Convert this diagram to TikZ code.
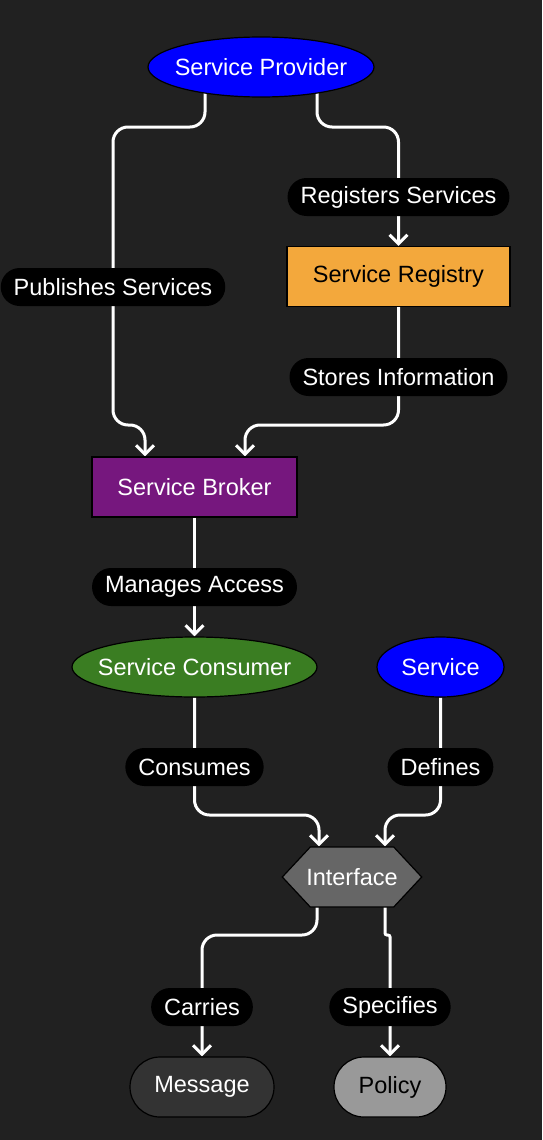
\documentclass[tikz,border=0pt]{standalone}
\usepackage{fontspec}
\setmainfont{Liberation Sans}
\usepackage{tikz}
\usetikzlibrary{shapes.geometric,shapes.symbols,arrows.meta,positioning,backgrounds}

\definecolor{bgdark}{RGB}{33,33,33}
\definecolor{provblue}{RGB}{0,0,255}
\definecolor{regorange}{RGB}{243,168,60}
\definecolor{brokpurple}{RGB}{118,23,126}
\definecolor{consgreen}{RGB}{58,125,34}
\definecolor{ifgray}{RGB}{102,102,102}
\definecolor{msggray}{RGB}{51,51,51}
\definecolor{polgray}{RGB}{153,153,153}

\begin{document}
\begin{tikzpicture}[
    on grid,
    base/.style={draw=black, line width=1.2pt, minimum height=60pt, inner sep=0pt,
                 font=\fontsize{23.5pt}{28pt}\selectfont},
    ell/.style={base, ellipse, fill=provblue, text=white},
    reg/.style={base, rectangle, fill=regorange, text=black, minimum width=223pt},
    brok/.style={base, rectangle, fill=brokpurple, text=white, minimum width=205pt},
    cons/.style={base, ellipse, fill=consgreen, text=white, minimum width=245pt,
                 inner xsep=-11pt},
    hexa/.style={base, signal, signal to=west and east, signal pointer angle=94,
                 fill=ifgray, text=white, inner xsep=-4pt},
    pill/.style={base, rectangle, rounded corners=30pt},
    arr/.style={-{Straight Barb[length=9pt,width=18pt]}, line width=3pt, white,
                rounded corners=15pt},
    lbl/.style={rectangle, fill=black, text=white, rounded corners=19pt,
                minimum height=38pt, inner xsep=13pt, inner ysep=0pt,
                font=\fontsize{23.5pt}{28pt}\selectfont}
  ]
    \useasboundingbox (0,0) rectangle (542pt,-1140pt);
    \begin{scope}[on background layer]
      \fill[bgdark] (0,0) rectangle (542pt,-1140pt);
    \end{scope}

    \node[ell, minimum width=226pt, inner xsep=-9pt] (prov) at (261pt,-67pt) {Service Provider};
    \node[reg, below right=209.5pt and 137.5pt of prov] (reg) {Service Registry};
    \node[brok, below left=420pt and 66.5pt of prov] (brok) {Service Broker};
    \node[cons, below=180pt of brok] (cons) {Service Consumer};
    \node[ell, minimum width=127pt, right=246pt of cons] (serv) {Service};
    \node[hexa, below right=210pt and 157.5pt of cons] (iface) {Interface};
    \node[pill, fill=msggray, text=white, minimum width=144pt,
          below left=210pt and 150pt of iface] (msg) {Message};
    \node[pill, fill=polgray, text=black, minimum width=112pt,
          right=188pt of msg] (pol) {Policy};

    %--- edge labels ---
    \node[lbl, below left=220pt and 148pt of prov] (pub)  {Publishes Services};
    \node[lbl, above=79.5pt of reg]                (regs) {Registers Services};
    \node[lbl, below=100.5pt of reg]               (stor) {Stores Information};
    \node[lbl, below=100pt of brok]                (mgr)  {Manages Access};
    \node[lbl, below=100pt of cons]                (cnsm) {Consumes};
    \node[lbl, below=100pt of serv]                (dfn)  {Defines};
    \node[lbl, above=80pt of msg]                  (carr) {Carries};
    \node[lbl, above=80pt of pol]                  (spec) {Specifies};

    %--- connectors (behind nodes) ---
    \begin{scope}[on background layer]
      \draw[arr] ([xshift=-56pt]prov.center) |- ([yshift=160pt]pub.center)
                 -- ([yshift=-138pt]pub.center) -| ([xshift=-49.5pt]brok.north);
      \draw[arr] ([xshift=56pt]prov.center) |- ([yshift=70pt]regs.center) -- (reg.north);
      \draw[arr] (reg.south) -- ([yshift=-48pt]stor.center) -| ([xshift=50.5pt]brok.north);
      \draw[arr] (brok.south) -- (cons.north);
      \draw[arr] (cons.south) -- ([yshift=-48pt]cnsm.center) -| ([xshift=-33pt]iface.north);
      \draw[arr] (serv.south) -- ([yshift=-48pt]dfn.center) -| ([xshift=33pt]iface.north);
      \draw[arr] ([xshift=-35pt]iface.center) |- ([yshift=72pt]carr.center) -- (msg.north);
      \draw[arr, rounded corners=2pt] ([xshift=33pt]iface.center) |- ([yshift=72pt]spec.center)
                 -- (pol.north);
    \end{scope}
\end{tikzpicture}
\end{document}
